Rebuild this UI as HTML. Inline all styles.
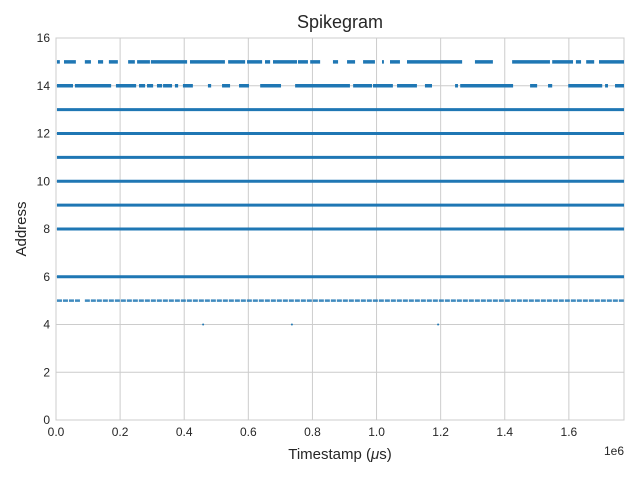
<!DOCTYPE html>
<html><head><meta charset="utf-8"><style>
body{margin:0;background:#fff}
svg{display:block;font-family:"Liberation Sans","DejaVu Sans",sans-serif}
</style></head><body>
<svg id="chart" width="640" height="480" viewBox="0 0 640 480" xmlns="http://www.w3.org/2000/svg">
<rect width="640" height="480" fill="#fff"/>
<g id="grid"></g>
<g id="marks"></g>
<g id="ticks"></g>
<text x="340" y="28" font-size="18" text-anchor="middle" fill="#262626">Spikegram</text>
<text x="340" y="459" font-size="15" text-anchor="middle" fill="#262626">Timestamp (<tspan font-style="italic">μ</tspan>s)</text>
<text transform="translate(26,229) rotate(-90)" font-size="15" text-anchor="middle" fill="#262626">Address</text>
<text x="624" y="455" font-size="12" text-anchor="end" fill="#262626">1e6</text>
</svg>
<script>
const xTicks=[0,0.2,0.4,0.6,0.8,1.0,1.2,1.4,1.6];
const xTickLabels=["0.0","0.2","0.4","0.6","0.8","1.0","1.2","1.4","1.6"];
const yTicks=[0,2,4,6,8,10,12,14,16];
const solidRows=[6,8,9,10,11,12,13];
const row15=[[.003,.012],[.025,.062],[.090,.109],[.131,.147],[.165,.193],[.225,.246],[.253,.293],[.296,.409],[.418,.527],[.537,.590],[.596,.643],[.652,.668],[.677,.752],[.755,.786],[.793,.824],[.864,.880],[.908,.933],[.958,.995],[1.017,1.023],[1.042,1.073],[1.095,1.267],[1.307,1.363],[1.423,1.541],[1.548,1.613],[1.622,1.638],[1.654,1.679],[1.694,1.772]];
const row14=[[.003,.053],[.059,.172],[.187,.250],[.259,.278],[.284,.303],[.315,.331],[.334,.362],[.371,.381],[.396,.427],[.474,.484],[.518,.543],[.571,.602],[.637,.702],[.746,.917],[.927,.986],[.989,1.051],[1.064,1.126],[1.151,1.173],[1.245,1.254],[1.261,1.426],[1.479,1.501],[1.535,1.548],[1.598,1.704],[1.713,1.722],[1.744,1.775]];
const row5=[[.003,.075],[.090,1.775]];
const row4=[.459,.736,1.192];
const X0=56,X1=624,Y0=420,Y1=38,XMAX=1.772,YMAX=16;
const sx=v=>X0+v/XMAX*(X1-X0);
const sy=v=>Y0-v/YMAX*(Y0-Y1);
const NS="http://www.w3.org/2000/svg";
function mk(tag,parent,attrs){const e=document.createElementNS(NS,tag);for(const k in attrs)e.setAttribute(k,attrs[k]);parent.appendChild(e);return e;}
const grid=document.getElementById('grid'),marks=document.getElementById('marks'),ticks=document.getElementById('ticks');
xTicks.forEach((t,i)=>{
 const l=mk('line',grid,{x1:sx(t),x2:sx(t),y1:Y1,y2:Y0,stroke:'#cccccc','stroke-width':1});
 
 
 const tx=mk('text',ticks,{x:sx(t),y:Y0+16,'font-size':12,'text-anchor':'middle',fill:'#262626'});
 tx.textContent=xTickLabels[i];
 
 
});
yTicks.forEach(t=>{
 const l=mk('line',grid,{x1:X0,x2:X1,y1:sy(t),y2:sy(t),stroke:'#cccccc','stroke-width':1});
 
 
 const tx=mk('text',ticks,{x:X0-6,y:sy(t)+4,'font-size':12,'text-anchor':'end',fill:'#262626'});
 tx.textContent=String(t);
 
 
});
const frame=mk('rect',grid,{x:X0,y:Y1,width:X1-X0,height:Y0-Y1,fill:'none',stroke:'#cccccc','stroke-width':1});


const C='#1f77b4';
solidRows.forEach(r=>{
 const l=mk('line',marks,{x1:sx(0.003),x2:X1,y1:sy(r),y2:sy(r),stroke:C,'stroke-width':3});
 
 
});
function segs(arr,r,w,op,dash){arr.forEach(s=>{
 const l=mk('line',marks,{x1:sx(s[0]),x2:Math.min(X1,sx(s[1])),y1:sy(r),y2:sy(r),stroke:C,'stroke-width':w,opacity:op});
 if(dash)l.setAttribute('stroke-dasharray',dash);
 
 
});}
segs(row15,15,3.5,1);
segs(row14,14,3.5,1);
segs(row5,5,2.6,0.85,'5 1');
row4.forEach(v=>{
 const c=mk('circle',marks,{cx:sx(v),cy:sy(4),r:1,fill:C});
 
 
});
</script>
</body></html>
